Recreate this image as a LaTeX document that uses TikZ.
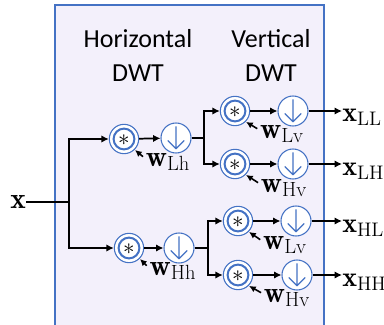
\documentclass[tikz,border=0pt]{standalone}
\usepackage{fontspec}
\setsansfont{Carlito}
\usetikzlibrary{arrows.meta}
\definecolor{dwtblue}{HTML}{4472C4}
\definecolor{dwtfill}{HTML}{F3F0FB}
\tikzset{
	sig/.style={line width=1.3pt, -{Latex[length=5.5pt,width=5.5pt]}},
	wire/.style={line width=1.3pt},
	wgt/.style={line width=1.2pt, -{Latex[length=5pt,width=5pt]}, shorten >=0.3pt},
	conv/.style={circle, draw=dwtblue, line width=0.8pt, fill=white, minimum size=22pt, inner sep=0pt,
		path picture={\draw[line width=1.5pt] (path picture bounding box.center) circle (7.8pt);
			\node[inner sep=0pt, font=\LARGE] at ([yshift=-0.6pt]path picture bounding box.center) {$\ast$};}},
	down/.style={circle, draw=dwtblue, line width=0.8pt, fill=white, minimum size=22.5pt, inner sep=0pt,
		path picture={\draw[line width=0.9pt, line cap=round, line join=round]
			([yshift=8.5pt]path picture bounding box.center) -- ([yshift=-8pt]path picture bounding box.center)
			([shift={(-6pt,-2pt)}]path picture bounding box.center) -- ([yshift=-8pt]path picture bounding box.center)
			-- ([shift={(6pt,-2pt)}]path picture bounding box.center);}},
	lbl/.style={inner sep=0pt, font=\fontsize{22}{24}\selectfont},
	outlbl/.style={lbl, anchor=west, font=\fontsize{21}{23}\selectfont},
	head/.style={align=center, font=\sffamily\fontsize{19.5}{25.5}\selectfont}
}
\begin{document}
\begin{tikzpicture}[x=0.75pt, y=-0.75pt]
	\useasboundingbox (0,0) rectangle (384,324);
	\fill[dwtfill] (55,5) rectangle (324,330);
	\draw[dwtblue, line width=0.9pt] (55,330) -- (55,5) -- (324,5) -- (324,330);
	\node[head] (hdwt) at (138,55) {Horizontal\\DWT};
	\node[head] (vdwt) at (271,55) {Vertical\\DWT};
	% input and horizontal stage
	\node[lbl] (x) at (18,202) {$\mathbf{x}$};
	\coordinate (sp) at (69,202);
	\node[conv] (ch1) at (124,139) {};
	\node[down] (dh1) at (176,138) {};
	\node[conv] (ch2) at (129,248) {};
	\node[down] (dh2) at (179,248) {};
	\draw[wire] (x.east) -- (sp);
	\draw[sig] (sp) |- (ch1);
	\draw[sig] (sp) |- (ch2);
	\draw[sig] (ch1) -- (dh1);
	\draw[sig] (ch2) -- (dh2);
	\node[lbl] (wLh) at (168,162) {$\mathbf{w}_{\mathrm{Lh}}$};
	\node[lbl] (wHh) at (173,271) {$\mathbf{w}_{\mathrm{Hh}}$};
	\draw[wgt] ([shift={(-2pt,4pt)}]wLh.west) -- (ch1.south east);
	\draw[wgt] ([shift={(-2pt,4pt)}]wHh.west) -- (ch2.south east);
	% vertical stage
	\coordinate (sp1) at (204,138);
	\coordinate (sp2) at (208,248);
	\draw[wire] (dh1) -- (sp1);
	\draw[wire] (dh2) -- (sp2);
	\node[conv] (c11) at (235,111) {};
	\node[down] (d11) at (293,111) {};
	\node[conv] (c12) at (235,164) {};
	\node[down] (d12) at (293,164) {};
	\node[conv] (c21) at (238,221) {};
	\node[down] (d21) at (296,221) {};
	\node[conv] (c22) at (238,275) {};
	\node[down] (d22) at (297,275) {};
	\draw[sig] (sp1) |- (c11);
	\draw[sig] (sp1) |- (c12);
	\draw[sig] (sp2) |- (c21);
	\draw[sig] (sp2) |- (c22);
	\draw[sig] (c11) -- (d11);
	\draw[sig] (c12) -- (d12);
	\draw[sig] (c21) -- (d21);
	\draw[sig] (c22) -- (d22);
	\node[lbl] (wLv1) at (282,134) {$\mathbf{w}_{\mathrm{Lv}}$};
	\node[lbl] (wHv1) at (284,188) {$\mathbf{w}_{\mathrm{Hv}}$};
	\node[lbl] (wLv2) at (285,245) {$\mathbf{w}_{\mathrm{Lv}}$};
	\node[lbl] (wHv2) at (287,298) {$\mathbf{w}_{\mathrm{Hv}}$};
	\draw[wgt] ([shift={(-2pt,4pt)}]wLv1.west) -- (c11.south east);
	\draw[wgt] ([shift={(-2pt,4pt)}]wHv1.west) -- (c12.south east);
	\draw[wgt] ([shift={(-2pt,4pt)}]wLv2.west) -- (c21.south east);
	\draw[wgt] ([shift={(-2pt,4pt)}]wHv2.west) -- (c22.south east);
	% outputs
	\node[outlbl] (xLL) at (342,117) {$\mathbf{x}_{\mathrm{LL}}$};
	\node[outlbl] (xLH) at (342,171) {$\mathbf{x}_{\mathrm{LH}}$};
	\node[outlbl] (xHL) at (342,228) {$\mathbf{x}_{\mathrm{HL}}$};
	\node[outlbl] (xHH) at (342,282) {$\mathbf{x}_{\mathrm{HH}}$};
	\draw[sig] (d11) -- (d11 -| xLL.west);
	\draw[sig] (d12) -- (d12 -| xLH.west);
	\draw[sig] (d21) -- (d21 -| xHL.west);
	\draw[sig] (d22) -- (d22 -| xHH.west);
\end{tikzpicture}
\end{document}
